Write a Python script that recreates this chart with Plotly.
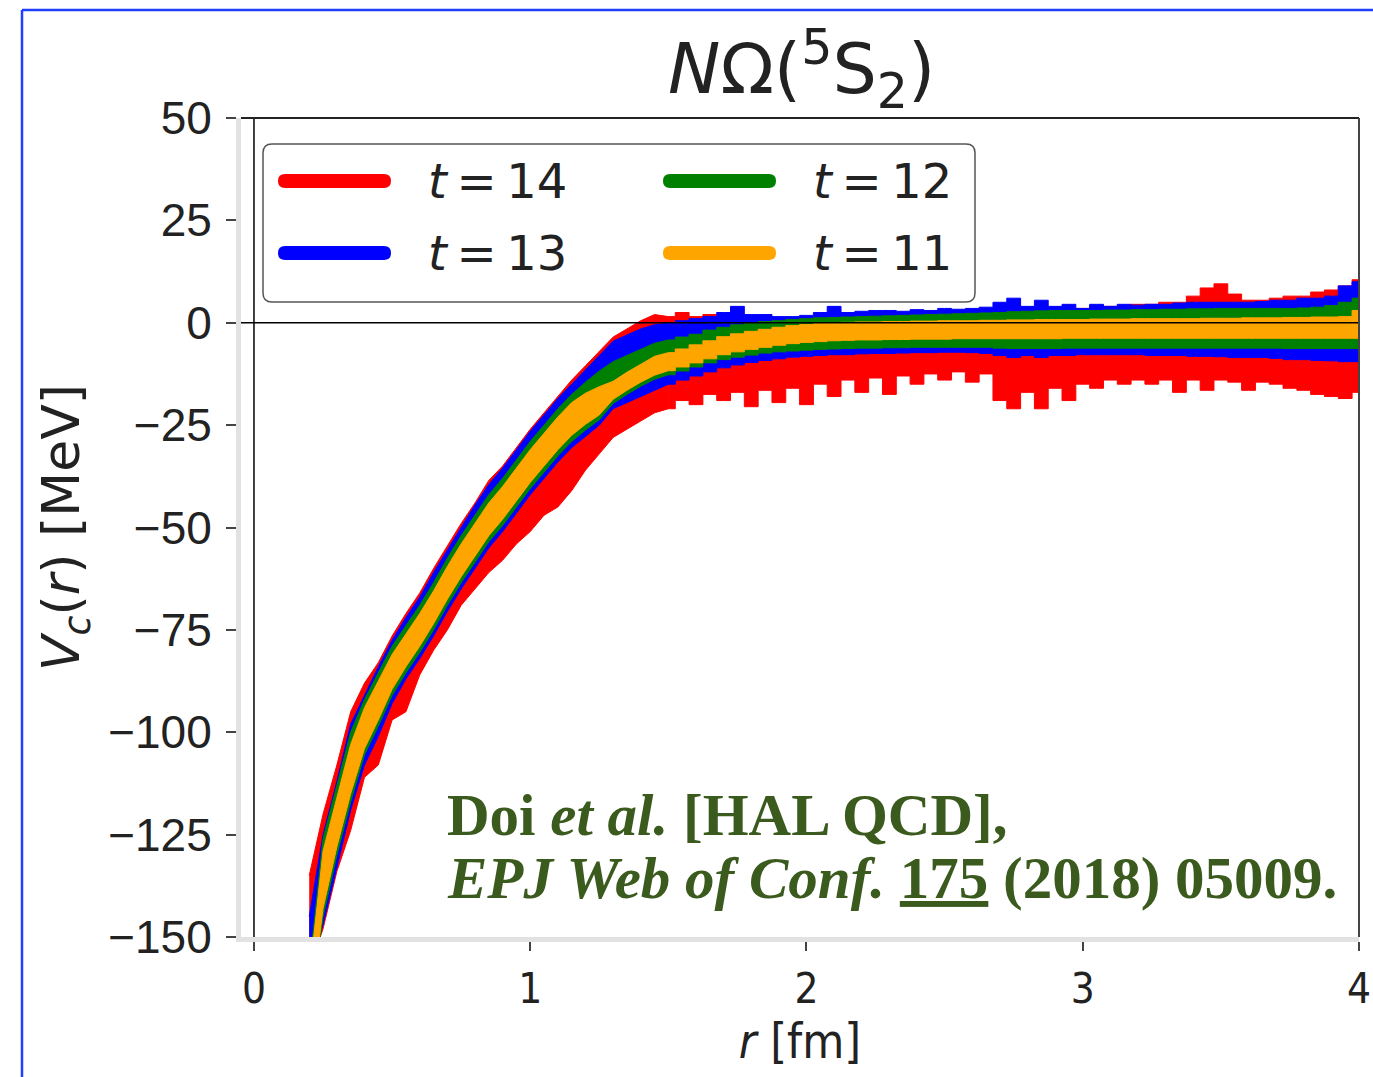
import plotly.graph_objects as go

# lattice separation r [fm]
r_fm = [0.20, 0.25, 0.30, 0.35, 0.40, 0.45, 0.50, 0.55, 0.60, 0.65,
        0.70, 0.75, 0.80, 0.85, 0.90, 0.95, 1.00, 1.05, 1.10, 1.15,
        1.20, 1.25, 1.30, 1.35, 1.40, 1.45, 1.50, 1.55, 1.60, 1.65,
        1.70, 1.75, 1.80, 1.85, 1.90, 1.95, 2.00, 2.05, 2.10, 2.15,
        2.20, 2.25, 2.30, 2.35, 2.40, 2.45, 2.50, 2.55, 2.60, 2.65,
        2.70, 2.75, 2.80, 2.85, 2.90, 2.95, 3.00, 3.05, 3.10, 3.15,
        3.20, 3.25, 3.30, 3.35, 3.40, 3.45, 3.50, 3.55, 3.60, 3.65,
        3.70, 3.75, 3.80, 3.85, 3.90, 3.95, 4.00]

# lower / upper edge of each error band, V_c(r) [MeV]
t11_lo = [-170, -143, -128, -115, -104, -97, -89.5, -84, -79, -73.5,
          -67.5, -62, -57, -52, -48, -43.5, -39, -35, -31, -27.5,
          -24.8, -22.5, -18.7, -16.5, -14.5, -12.8, -11.7, -10.8, -9.8, -8.8,
          -7.8, -7.1, -6.5, -6.0, -5.5, -5.1, -4.8, -4.6, -4.4, -4.3,
          -4.2, -4.2, -4.1, -4.1, -4.0, -4.0, -4.0, -3.9, -3.9, -3.9,
          -3.9, -3.9, -3.9, -3.9, -3.9, -3.8, -3.8, -3.8, -3.8, -3.8,
          -3.8, -3.8, -3.8, -3.8, -3.8, -3.8, -3.8, -3.8, -3.8, -3.8,
          -3.8, -3.8, -3.8, -3.8, -3.8, -3.8, -3.8]
t11_hi = [-160, -129, -116, -103, -94, -87.5, -81, -76, -71, -65.5,
          -59.5, -54, -49, -44, -40, -35.5, -31, -27, -23, -19.5,
          -17.2, -15.6, -14.3, -12.1, -10.1, -8.2, -7.3, -6.4, -5.4, -4.4,
          -3.4, -2.7, -2.1, -1.6, -1.1, -0.7, -0.4, -0.2, 0.0, 0.1,
          0.2, 0.2, 0.3, 0.3, 0.4, 0.4, 0.5, 0.5, 0.5, 0.6,
          0.6, 0.7, 0.7, 0.8, 0.8, 0.8, 0.8, 0.9, 0.9, 0.9,
          1.0, 1.0, 1.0, 1.0, 1.0, 1.1, 1.1, 1.1, 1.2, 1.2,
          1.2, 1.3, 1.3, 1.4, 1.4, 1.5, 3.0]

t12_lo = [-170, -145, -130, -117, -105.5, -98.5, -91, -85.5, -80.5, -75,
          -69, -63.5, -58.5, -53.5, -49.5, -45, -40.5, -36.5, -32.5, -29,
          -26.2, -23.7, -19.7, -17.5, -15.5, -13.8, -12.7, -11.8, -10.8, -9.8,
          -9, -8.4, -7.9, -7.4, -7.1, -6.9, -6.7, -6.5, -6.4, -6.3,
          -6.2, -6.2, -6.1, -6.1, -6, -6, -6, -6, -6, -6,
          -6.2, -6.3, -6.3, -6.3, -6.3, -6.2, -6.2, -6.2, -6.2, -6.2,
          -6.2, -6.2, -6.2, -6.2, -6.2, -6.2, -6.2, -6.2, -6.2, -6.2,
          -6.2, -6.3, -6.3, -6.3, -6.3, -6.3, -6.3]
t12_hi = [-158, -126, -113, -100, -92, -85.5, -79, -74, -69, -63.5,
          -57.5, -52, -47, -42, -38, -33.5, -29, -25, -21, -17.5,
          -14.5, -11.8, -9.5, -8, -6.5, -5, -4.2, -3.5, -2.8, -1.8,
          -1.1, -0.5, 0, 0.3, 0.5, 0.8, 1, 1.2, 1.3, 1.4,
          1.5, 1.6, 1.7, 1.8, 1.9, 2, 2.1, 2.2, 2.3, 2.4,
          2.5, 2.7, 2.8, 2.9, 3, 3, 3, 3, 3.1, 3.1,
          3.2, 3.2, 3.3, 3.3, 3.4, 3.4, 3.5, 3.5, 3.5, 3.5,
          3.5, 3.5, 3.6, 3.8, 4.2, 5, 6]

t13_lo = [-158, -147, -133, -119, -108, -101, -93, -87, -82, -76.5,
          -70.5, -65, -60, -55, -51, -46.5, -42, -38, -34, -30.5,
          -27.8, -25, -21, -19.5, -18, -16.5, -15, -14, -13, -12,
          -11, -10.3, -9.7, -9.2, -8.8, -8.4, -8.2, -8, -7.8, -7.8,
          -7.6, -7.5, -7.5, -7.4, -7.3, -7.3, -7.2, -7.2, -7.3, -7.5,
          -8, -8.5, -8, -8.5, -8, -8, -7.8, -7.8, -7.8, -7.8,
          -7.8, -8, -8, -8, -8.2, -8.2, -8.3, -8.5, -8.5, -8.5,
          -8.7, -9, -9, -9.2, -9.3, -9.5, -9.5]
t13_hi = [-145, -125, -112, -98, -91, -84, -77.5, -72, -67, -61,
          -55.5, -50, -44.5, -39.5, -35.5, -31, -26.5, -22.5, -18.5, -15,
          -11.5, -8, -4.5, -3, -1.5, -0.5, 0, 0.5, 1, 1.5,
          2.5, 4, 2, 2, 1.5, 1.5, 1.8, 2.5, 4, 2.5,
          2.8, 3, 3, 2.8, 3.2, 3, 3.5, 3.3, 3.5, 3.8,
          5, 6, 4, 5.5, 4, 4.5, 3.5, 4.5, 4, 4.5,
          4.3, 4.5, 4.5, 4.8, 5, 5, 5, 5, 5, 5.2,
          5.5, 5.5, 6, 6, 6.5, 9, 10]

t14_lo = [-158, -148, -134, -124, -111, -108, -97, -95, -86, -80,
          -75, -69, -65, -61, -58, -54, -51, -47, -45, -41,
          -36, -32, -28, -26, -24, -22, -21, -19, -20, -17.5,
          -19, -17, -20.5, -16.5, -19.5, -16, -20, -15, -18, -14,
          -17, -13.5, -17.5, -13, -15, -12.5, -14, -12, -14.5, -12.5,
          -19, -21, -17, -21, -16, -19, -15, -16, -14, -15,
          -14, -15, -14, -17, -14, -16.5, -14, -14.5, -16.5, -14.5,
          -15, -16, -16.5, -17.5, -18, -18.5, -17]
t14_hi = [-135, -120, -108, -95, -88, -83, -76.5, -71, -66, -60,
          -54.5, -49, -44, -38.5, -35, -30.5, -26, -22, -18, -14,
          -10.5, -7, -3.5, -1.5, 0.5, 2, 1.5, 2.5, 1.5, 2,
          1.5, 2, 1, 1, 1, 1, 1.2, 1.5, 1.5, 2,
          2, 2, 2.5, 2, 2.5, 2.5, 3, 2.5, 3, 3,
          3, 3.5, 3.5, 3.5, 3.5, 3.5, 3.5, 4, 4, 4,
          4.5, 4.5, 5, 5, 6.5, 8.5, 9.5, 7, 5.5, 5.5,
          6, 6.5, 6.5, 7.5, 8, 9, 10.5]

labels = ['14', '13', '12', '11']
colors = ['#ff0000', '#0000ff', '#008000', '#ffa500']
bands = [(t14_lo, t14_hi), (t13_lo, t13_hi), (t12_lo, t12_hi), (t11_lo, t11_hi)]

W, H = 1373, 1077
L, R, T, B = 241, 1359, 118, 937
SPLIT = 26  # steep part drawn as smooth band, flat tail as noisy steps

def px(x):
	return (x - L)/(R - L)

def py(y):
	return (B - y)/(B - T)

def rounded_path(x0, y0, x1, y1, rad):
	# pixel box -> paper path with rounded corners
	pts = [
		('M', [(x0 + rad, y0)]),
		('L', [(x1 - rad, y0)]),
		('Q', [(x1, y0), (x1, y0 + rad)]),
		('L', [(x1, y1 - rad)]),
		('Q', [(x1, y1), (x1 - rad, y1)]),
		('L', [(x0 + rad, y1)]),
		('Q', [(x0, y1), (x0, y1 - rad)]),
		('L', [(x0, y0 + rad)]),
		('Q', [(x0, y0), (x0 + rad, y0)]),
	]
	s = ''
	for cmd, pp in pts:
		s += cmd + ' ' + ' '.join(f'{px(a):.5f},{py(b):.5f}' for a, b in pp) + ' '
	return s + 'Z'

fig = go.Figure()
for lab, col, (lo, hi) in zip(labels, colors, bands):
	for sl, shape in [(slice(0, SPLIT + 1), 'linear'), (slice(SPLIT, None), 'hvh')]:
		rr, ll, hh = r_fm[sl], lo[sl], hi[sl]
		fig.add_trace(go.Scatter(
			x = rr + rr[::-1],
			y = hh + ll[::-1],
			fill = 'toself',
			fillcolor = col,
			mode = 'lines',
			line = dict(color=col, width=1, shape=shape),
			name = f't = {lab}',
			showlegend = False,
			hoverinfo = 'skip',
		))

shapes = [
	# zero line, r = 0 line
	dict(type='line', xref='paper', yref='y', x0=0, x1=1, y0=0, y1=0, line=dict(color='black', width=1.5), layer='above'),
	dict(type='line', xref='x', yref='paper', x0=0, x1=0, y0=0, y1=1, line=dict(color='black', width=1.5), layer='above'),
	# top and right frame
	dict(type='line', xref='paper', yref='paper', x0=0, x1=1, y0=1, y1=1, line=dict(color='#222222', width=2), layer='above'),
	dict(type='line', xref='paper', yref='paper', x0=1, x1=1, y0=0, y1=1, line=dict(color='#444444', width=2), layer='above'),
	# slide frame
	dict(type='line', xref='paper', yref='paper', x0=px(22), x1=px(22), y0=py(10), y1=py(1077), line=dict(color='#1f3fff', width=2.5)),
	dict(type='line', xref='paper', yref='paper', x0=px(22), x1=px(1373), y0=py(10), y1=py(10), line=dict(color='#1f3fff', width=2.5)),
	# legend box
	dict(type='path', xref='paper', yref='paper', path=rounded_path(263, 144, 975, 302, 9),
		fillcolor='white', line=dict(color='#555555', width=1.5), layer='above'),
]

annotations = []
leg_pos = [(278, 181), (278, 253), (663, 181), (663, 253)]
for lab, col, (x0, yc) in zip(labels, colors, leg_pos):
	shapes.append(dict(type='path', xref='paper', yref='paper', path=rounded_path(x0, yc - 7, x0 + 113, yc + 7, 7),
		fillcolor=col, line=dict(width=0), layer='above'))
	annotations.append(dict(xref='paper', yref='paper', x=px(x0 + 148), y=py(yc), xanchor='left', yanchor='middle',
		text=f'<i>t</i>\u2009=\u2009{lab}', showarrow=False, font=dict(family='DejaVu Sans', size=48, color='#222222')))

annotations += [
	dict(xref='paper', yref='paper', x=px(801), y=py(70), xanchor='center', yanchor='middle',
		text='<i>N</i>Ω(<sup>5</sup>S<sub>2</sub>)', showarrow=False,
		font=dict(family='DejaVu Sans', size=70, color='#222222')),
	dict(xref='paper', yref='paper', x=px(445), y=py(815), xanchor='left', yanchor='middle',
		text='<b>Doi <i>et al.</i> [HAL QCD],</b>', showarrow=False,
		font=dict(family='Liberation Serif', size=59, color='#3b5a1d')),
	dict(xref='paper', yref='paper', x=px(445), y=py(878), xanchor='left', yanchor='middle',
		text='<b><i>EPJ Web of Conf.</i> <u>175</u> (2018) 05009.</b>', showarrow=False,
		font=dict(family='Liberation Serif', size=59, color='#3b5a1d')),
]

fig.update_layout(
	width = W,
	height = H,
	margin = dict(l=L, r=W - R, t=T, b=H - B, autoexpand=False),
	paper_bgcolor = 'white',
	plot_bgcolor = 'white',
	showlegend = False,
	shapes = shapes,
	annotations = annotations,
	xaxis = dict(
		range = [-0.047, 4.0],
		tickvals = [0, 1, 2, 3, 4],
		ticks = 'outside', ticklen = 9, tickwidth = 1.5, tickcolor = '#444444',
		showgrid = False, zeroline = False,
		showline = True, linecolor = '#e2e2e2', linewidth = 5,
		tickfont = dict(family='DejaVu Sans Condensed, DejaVu Sans', size=42, color='#222222'),
		ticklabelstandoff = 2,
		title = dict(text='<i>r</i> [fm]', font=dict(family='DejaVu Sans Condensed, DejaVu Sans', size=48, color='#222222'), standoff=10),
	),
	yaxis = dict(
		range = [-150, 50],
		tickvals = [50, 25, 0, -25, -50, -75, -100, -125, -150],
		ticktext = ['50', '25', '0', '−25', '−50', '−75', '−100', '−125', '−150'],
		ticks = 'outside', ticklen = 10, tickwidth = 1.5, tickcolor = '#444444',
		showgrid = False, zeroline = False,
		showline = True, linecolor = '#e2e2e2', linewidth = 5,
		tickfont = dict(family='Liberation Sans', size=46, color='#222222'),
		ticklabelstandoff = 5,
		title = dict(text='<i>V<sub>c</sub></i>(<i>r</i>) [MeV]', font=dict(family='DejaVu Sans', size=52, color='#222222'), standoff=13),
	),
)

fig.write_html("out.html", config={'displayModeBar': False}, post_script="document.body.style.margin='0';")
